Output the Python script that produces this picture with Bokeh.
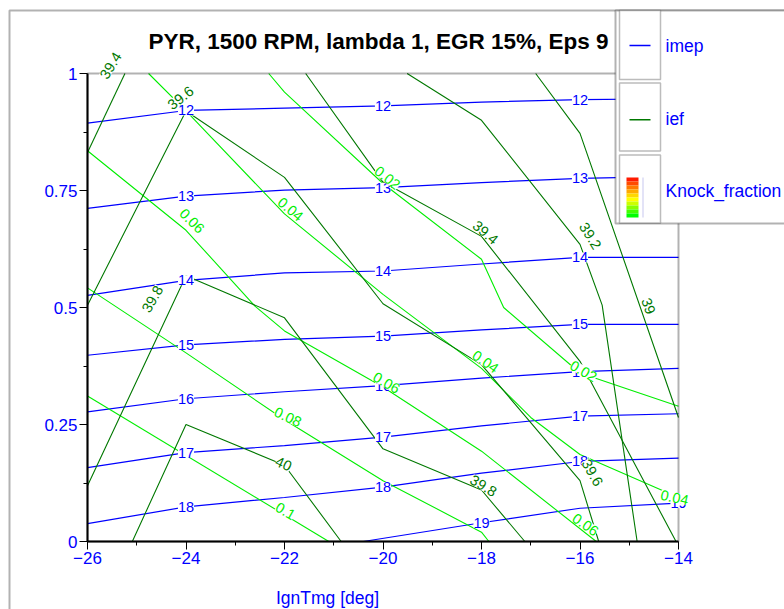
import numpy as np
from bokeh.plotting import figure
from bokeh.models import (Range1d, FixedTicker, ColumnDataSource, LabelSet, Label,
                          BoxAnnotation)
from bokeh.core.properties import value
from bokeh.embed import file_html
from bokeh.resources import INLINE

FONT = "Liberation Sans"
BLUE = "#0000ff"
DKGREEN = "#007800"
LTGREEN = "#00ee00"

# ---------------- data ----------------
title_text = "PYR, 1500 RPM, lambda 1, EGR 15%, Eps 9"
x_label = "IgnTmg [deg]"
x_ticks = [-26, -24, -22, -20, -18, -16, -14]
x_minor = [-25, -23, -21, -19, -17, -15]
y_ticks = [0, 0.25, 0.5, 0.75, 1]
y_minor = [0.125, 0.375, 0.625, 0.875]
y_tick_labels = ["0", "0.25", "0.5", "0.75", "1"]
legend_names = ["imep", "ief", "Knock_fraction"]

# imep (blue) contour lines, sampled at the ignition-timing grid
imep_levels = ["12", "13", "14", "15", "16", "17", "18"]
imep_grid_x = [-26, -24, -22, -20, -18, -16, -14]
imep_y = [
    [0.894, 0.921, 0.926, 0.931, 0.939, 0.944, 0.946],
    [0.712, 0.738, 0.751, 0.756, 0.767, 0.776, 0.780],
    [0.526, 0.558, 0.574, 0.578, 0.593, 0.607, 0.607],
    [0.398, 0.420, 0.432, 0.439, 0.452, 0.464, 0.464],
    [0.277, 0.305, 0.320, 0.333, 0.349, 0.363, 0.370],
    [0.158, 0.190, 0.205, 0.223, 0.247, 0.268, 0.273],
    [0.038, 0.074, 0.094, 0.116, 0.146, 0.171, 0.178],
]
imep19_x = [-20.4, -18, -16, -14]
imep19_y = [0.0, 0.040, 0.071, 0.082]
imep_label_x = [-24, -20, -16]
imep19_label_x = [-18, -14]

# ief (dark green) contour lines
ief_x = [
    [-16.9, -16, -14],                          # 39
    [-19.51, -18, -16, -15.55, -14.84],         # 39.2
    [-26, -25.24],                              # 39.4 (left)
    [-21.57, -20, -18, -16, -14.05],            # 39.4 (right)
    [-26, -24, -22, -20, -18, -16, -15.62],     # 39.6
    [-26, -24, -22, -20, -18, -17.12],          # 39.8
    [-25.09, -24, -22, -20.85],                 # 40
]
ief_y = [
    [1.0, 0.872, 0.265],
    [1.0, 0.90, 0.635, 0.505, 0.0],
    [0.831, 1.0],
    [1.0, 0.768, 0.652, 0.385, 0.0],
    [0.505, 0.92, 0.778, 0.508, 0.378, 0.13, 0.0],
    [0.119, 0.568, 0.478, 0.198, 0.11, 0.0],
    [0.0, 0.25, 0.163, 0.0],
]
ief_label_text = ["39.4", "39.6", "39.8", "40", "39.4", "39.2", "39", "39.8", "39.6"]
ief_label_x = [-25.53, -24.11, -24.68, -22.02, -17.92, -15.79, -14.61, -17.96, -15.75]
ief_label_y = [1.017, 0.948, 0.518, 0.166, 0.660, 0.653, 0.503, 0.119, 0.147]
ief_label_angle = [58, 38, 60, -25, -40, -58, -70, -31, -60]

# Knock_fraction (light green) contour lines
knock_x = [
    [-22.32, -22, -20, -18, -17.55, -16, -14],          # 0.02
    [-24.76, -24, -22, -20, -18, -17, -16, -14],        # 0.04
    [-26, -24, -22.6, -22, -20, -18, -15.67],           # 0.06
    [-26, -24, -22, -20, -18, -17.85],                  # 0.08
    [-26, -21.1],                                       # 0.1
]
knock_y = [
    [1.0, 0.96, 0.765, 0.603, 0.5, 0.36, 0.289],
    [1.0, 0.92, 0.70, 0.528, 0.370, 0.265, 0.186, 0.094],
    [0.835, 0.665, 0.503, 0.45, 0.33, 0.193, 0.0],
    [0.542, 0.403, 0.260, 0.130, 0.020, 0.0],
    [0.311, 0.0],
]
knock_label_text = ["0.02", "0.02", "0.04", "0.04", "0.04", "0.06", "0.06", "0.06", "0.08", "0.1"]
knock_label_x = [-19.91, -15.93, -21.88, -17.92, -14.08, -23.88, -19.93, -15.89, -21.93, -21.98]
knock_label_y = [0.777, 0.364, 0.710, 0.384, 0.094, 0.685, 0.339, 0.036, 0.266, 0.065]
knock_label_angle = [-38, -30, -40, -35, -12, -45, -30, -35, -25, -30]

# ---------------- figure ----------------
# plot region on the canvas (pixels) and canvas size
FL, FT, FW, FH = 87, 73, 591, 468
W, H = 784, 609
X0, X1 = x_ticks[0], x_ticks[-1]
Y0, Y1 = y_ticks[0], y_ticks[-1]


def cx(px):
    return X0 + (px - FL) * (X1 - X0) / FW


def cy(py):
    return Y1 - (py - FT) * (Y1 - Y0) / FH


# the frame covers the whole canvas; axes are pinned to the plot region
p = figure(width=W, height=H, min_border=0,
           min_border_left=0, min_border_right=0, min_border_top=0, min_border_bottom=0,
           x_range=Range1d(cx(0), cx(W)), y_range=Range1d(cy(H), cy(0)),
           output_backend="svg", toolbar_location=None,
           background_fill_color="white", border_fill_color="white")
p.xgrid.visible = False
p.ygrid.visible = False
p.outline_line_color = None

for ax in (p.xaxis[0], p.yaxis[0]):
    ax.axis_line_color = "black"
    ax.axis_line_width = 2
    ax.major_tick_line_color = "black"
    ax.minor_tick_line_color = "black"
    ax.major_tick_in = 0
    ax.major_tick_out = 8
    ax.minor_tick_in = 0
    ax.minor_tick_out = 4
    ax.major_label_text_color = BLUE
    ax.major_label_text_font = FONT
    ax.major_label_text_font_size = "17px"
    ax.major_label_standoff = 2

p.xaxis.fixed_location = Y0
p.yaxis.fixed_location = X0
p.xaxis.bounds = (X0, X1)
p.yaxis.bounds = (Y0, Y1)
p.xaxis.ticker = FixedTicker(ticks=x_ticks, minor_ticks=x_minor)
p.yaxis.ticker = FixedTicker(ticks=y_ticks, minor_ticks=y_minor)
p.yaxis.major_label_overrides = {t: s for t, s in zip(y_ticks, y_tick_labels)}

# contour lines
imep_xs = [imep_grid_x for _ in imep_y] + [imep19_x]
imep_ys = imep_y + [imep19_y]
p.multi_line(xs=imep_xs, ys=imep_ys, line_color=BLUE, line_width=1.2)
p.multi_line(xs=knock_x, ys=knock_y, line_color=LTGREEN, line_width=1.1)
p.multi_line(xs=ief_x, ys=ief_y, line_color=DKGREEN, line_width=1.1)

# plot-region border (top and right edges)
p.add_layout(BoxAnnotation(left=X0, right=X1, bottom=Y0, top=Y1, fill_alpha=0,
                           line_color="black", line_width=2))

# contour labels
il_text, il_x, il_y = [], [], []
for lev, yy in zip(imep_levels, imep_y):
    for lx in imep_label_x:
        il_text.append(lev)
        il_x.append(lx)
        il_y.append(float(np.interp(lx, imep_grid_x, yy)))
for lx in imep19_label_x:
    il_text.append("19")
    il_x.append(lx)
    il_y.append(float(np.interp(lx, imep19_x, imep19_y)))


def add_labels(texts, xs, ys, angles, color):
    src = ColumnDataSource(dict(x=xs, y=ys, text=texts, angle=angles))
    ls = LabelSet(x="x", y="y", text="text", angle="angle", angle_units="deg",
                  source=src, text_color=color, text_font=value(FONT),
                  text_font_size="14.5px", text_align="center",
                  text_baseline="middle", background_fill_color="white")
    p.add_layout(ls)


add_labels(il_text, il_x, il_y, [0] * len(il_x), BLUE)
add_labels(knock_label_text, knock_label_x, knock_label_y, knock_label_angle, LTGREEN)
add_labels(ief_label_text, ief_label_x, ief_label_y, ief_label_angle, DKGREEN)

# ---------------- decorations (outer frame, title, axis title, legend) ----------------
p.add_layout(BoxAnnotation(left=cx(9), right=cx(900), top=cy(10), bottom=cy(700),
                           fill_alpha=0, line_color="black", line_width=2))
p.add_layout(Label(x=cx(378), y=cy(41), text=title_text, text_align="center",
                   text_baseline="middle", text_font=FONT, text_font_style="bold",
                   text_font_size="22.5px", text_color="black"))
p.add_layout(Label(x=cx(327), y=cy(597), text=x_label, text_align="center",
                   text_baseline="middle", text_font=FONT,
                   text_font_size="17.5px", text_color=BLUE))

# legend
p.add_layout(BoxAnnotation(left=cx(615), right=cx(900), top=cy(10), bottom=cy(223),
                           fill_color="white", fill_alpha=1, line_color="black",
                           line_width=2))
box_tops = [10, 82.5, 154.5]
box_bottoms = [79, 150.5, 222.5]
for bt, bb in zip(box_tops, box_bottoms):
    p.add_layout(BoxAnnotation(left=cx(619), right=cx(660), top=cy(bt), bottom=cy(bb),
                               fill_color="white", fill_alpha=1, line_color="#202020",
                               line_width=1.5))
for name, ty in zip(legend_names, [45, 118.5, 190]):
    p.add_layout(Label(x=cx(665), y=cy(ty), text=name, text_align="left",
                       text_baseline="middle", text_font=FONT, text_font_size="17.5px",
                       text_color=BLUE))
for col, ly in [(BLUE, 45), (DKGREEN, 119.3)]:
    p.add_layout(BoxAnnotation(left=cx(629), right=cx(650), top=cy(ly - 0.7),
                               bottom=cy(ly + 0.7), fill_color=col, fill_alpha=1,
                               line_alpha=0))
grad = ["#ff1a00", "#ff4a00", "#ff7a00", "#ffaa00", "#ffd800", "#ffff00",
        "#ccff00", "#88ff00", "#44ff00", "#00ff00"]
for i, c in enumerate(grad):
    p.add_layout(BoxAnnotation(left=cx(626), right=cx(638), top=cy(177 + 4 * i),
                               bottom=cy(181 + 4 * i), fill_color=c, fill_alpha=1,
                               line_alpha=0))
p.add_layout(BoxAnnotation(left=cx(642), right=cx(643), top=cy(177), bottom=cy(217),
                           fill_color="#c8c8f0", fill_alpha=1, line_alpha=0))

open("out.html", "w").write(file_html(p, INLINE))
